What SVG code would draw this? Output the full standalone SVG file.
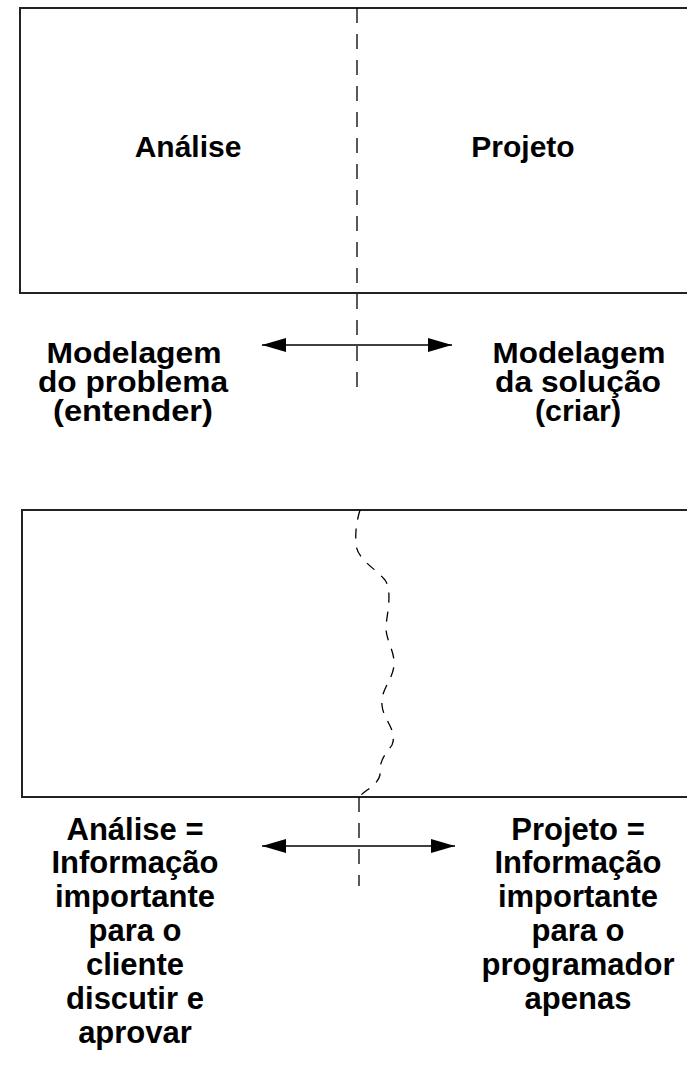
<svg xmlns="http://www.w3.org/2000/svg" width="687" height="1070" viewBox="0 0 687 1070">
<defs>
<style>
.box{fill:none;stroke:#222;stroke-width:2}
.dash{fill:none;stroke:#000;stroke-width:1.3;stroke-dasharray:15 11}
.wavy{fill:none;stroke:#000;stroke-width:1.3;stroke-dasharray:10 9}
.arr{fill:none;stroke:#000;stroke-width:1.5;marker-start:url(#ah);marker-end:url(#ah)}
text{font-family:"Liberation Sans",Arial,sans-serif;font-weight:bold;font-size:30px;fill:#000;text-anchor:middle}
.lt{font-size:29px}
.lb{font-size:31px}
</style>
<marker id="ah" markerUnits="userSpaceOnUse" markerWidth="24" markerHeight="14" refX="24" refY="7" orient="auto-start-reverse">
<path d="M0,0 L24,7 L0,14 z" fill="#000"/>
</marker>
</defs>
<rect width="687" height="1070" fill="#fff"/>
<g id="top-box">
<path class="box" d="M690,8 H20 V293 H690"/>
<text x="188" y="157">Análise</text>
<text x="523" y="157">Projeto</text>
</g>
<g id="top-left-label">
<text class="lt" x="134" y="363" textLength="175" lengthAdjust="spacingAndGlyphs">Modelagem</text>
<text class="lt" x="133" y="392" textLength="190" lengthAdjust="spacingAndGlyphs">do problema</text>
<text class="lt" x="133" y="421" textLength="160" lengthAdjust="spacingAndGlyphs">(entender)</text>
</g>
<g id="top-right-label">
<text class="lt" x="579" y="363" textLength="173" lengthAdjust="spacingAndGlyphs">Modelagem</text>
<text class="lt" x="578" y="392" textLength="166" lengthAdjust="spacingAndGlyphs">da solução</text>
<text class="lt" x="578" y="421" textLength="86" lengthAdjust="spacingAndGlyphs">(criar)</text>
</g>
<g id="bottom-box">
<path class="box" d="M690,510 H22 V797 H690"/>
</g>
<g id="bottom-left-label">
<text class="lb" x="135" y="840">Análise =</text>
<text class="lb" x="135" y="873">Informação</text>
<text class="lb" x="135" y="907">importante</text>
<text class="lb" x="135" y="941">para o</text>
<text class="lb" x="135" y="975">cliente</text>
<text class="lb" x="135" y="1009">discutir e</text>
<text class="lb" x="135" y="1043">aprovar</text>
</g>
<g id="bottom-right-label">
<text class="lb" x="578" y="840">Projeto =</text>
<text class="lb" x="578" y="873">Informação</text>
<text class="lb" x="578" y="907">importante</text>
<text class="lb" x="578" y="941">para o</text>
<text class="lb" x="578" y="975">programador</text>
<text class="lb" x="578" y="1009">apenas</text>
</g>
<g id="connectors">
<line class="dash" x1="357" y1="8" x2="357" y2="390"/>
<line class="arr" x1="262" y1="345" x2="452" y2="345"/>
<path class="wavy" d="M360,510 C357,520 355,530 356,545 C358,560 375,568 385,580 C392,590 388,610 386,625 C385,640 395,650 394,665 C393,680 380,690 382,705 C383,720 398,730 392,745 C385,755 379,760 380,775 C378,785 365,790 359,797"/>
<line class="dash" x1="359" y1="797" x2="359" y2="886"/>
<line class="arr" x1="262" y1="846" x2="455" y2="846"/>
</g>
</svg>
